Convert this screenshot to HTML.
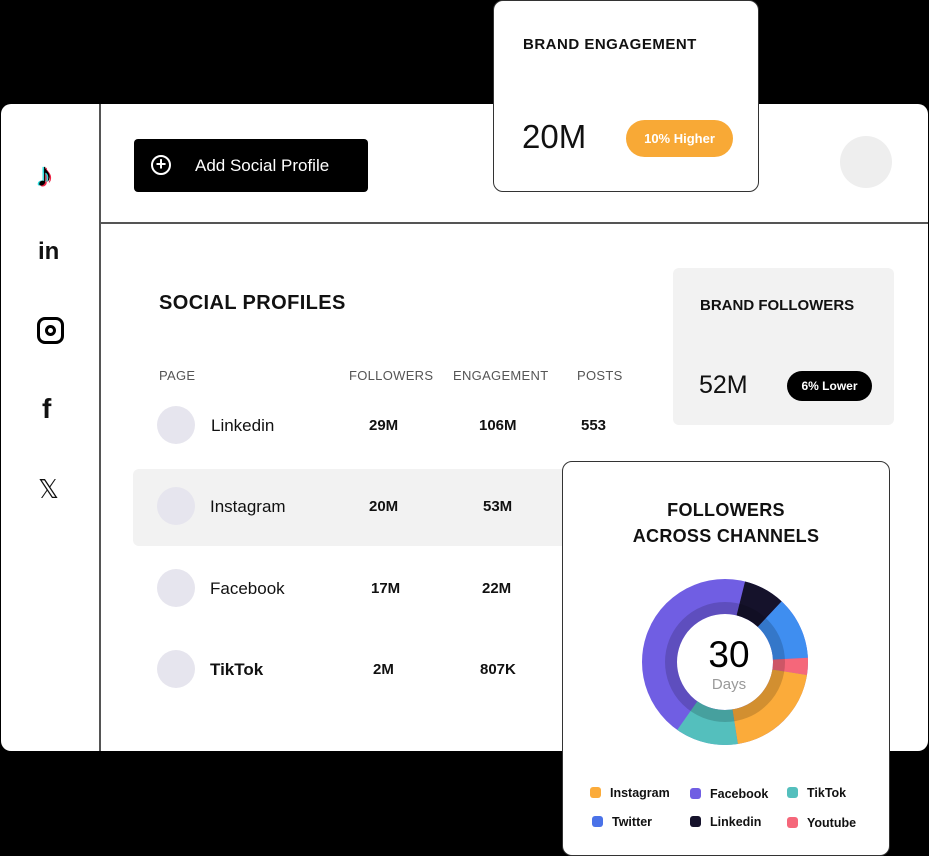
<!DOCTYPE html>
<html><head><meta charset="utf-8"><style>
*{margin:0;padding:0;box-sizing:border-box}
body{width:929px;height:856px;background:#000;position:relative;overflow:hidden;font-family:"Liberation Sans",sans-serif;color:#111}
.a{position:absolute}
.main{left:1px;top:104px;width:927px;height:647px;background:#fff;border-radius:10px}
.t{position:absolute;white-space:nowrap}
.h{font-size:13px;color:#555;letter-spacing:.3px}
.v{font-size:15px;font-weight:bold}
.av{position:absolute;width:38px;height:38px;border-radius:50%;background:#e6e5ee}
.lg{position:absolute;font-size:12.5px;font-weight:bold;white-space:nowrap}
.lg i{display:inline-block;width:11px;height:11px;border-radius:3px;margin-right:9px;vertical-align:-1px}
</style></head><body>
<div class="a main"></div>
<div class="a" style="left:99px;top:104px;width:1.5px;height:647px;background:#555"></div>
<div class="a" style="left:100px;top:222px;width:828px;height:1.5px;background:#555"></div>
<!-- sidebar icons -->
<div class="t" style="left:36px;top:156px;font-size:34px;font-weight:bold;color:#000;text-shadow:-1.5px 0 #2dd,1.5px 1px #e24">♪</div>
<div class="t" style="left:38px;top:238px;font-size:24px;font-weight:bold">in</div>
<div class="a" style="left:37px;top:317px;width:27px;height:27px;border:3px solid #000;border-radius:8px"><div class="a" style="left:5px;top:5px;width:11px;height:11px;border:3px solid #000;border-radius:50%"></div></div>
<div class="t" style="left:42px;top:393px;font-size:28px;font-weight:bold">f</div>
<div class="t" style="left:38px;top:474px;font-size:26px">𝕏</div>
<!-- button -->
<div class="a" style="left:134px;top:139px;width:234px;height:53px;background:#000;border-radius:4px"></div>
<div class="a" style="left:151px;top:155px;width:20px;height:20px;border:2px solid #fff;border-radius:50%;color:#fff;font-size:18px;line-height:15px;text-align:center;font-weight:bold">+</div>
<div class="t" style="left:195px;top:156px;color:#fff;font-size:17px">Add Social Profile</div>
<div class="a" style="left:840px;top:136px;width:52px;height:52px;border-radius:50%;background:#eee"></div>
<!-- brand engagement -->
<div class="a" style="left:493px;top:0;width:266px;height:192px;background:#fff;border:1px solid #333;border-radius:10px"></div>
<div class="t" style="left:523px;top:36px;font-size:15px;font-weight:bold;letter-spacing:.5px">BRAND ENGAGEMENT</div>
<div class="t" style="left:522px;top:118px;font-size:33px">20M</div>
<div class="a" style="left:626px;top:120px;width:107px;height:37px;background:#f8a936;border-radius:19px;color:#fff;font-size:13px;font-weight:bold;text-align:center;line-height:37px">10% Higher</div>
<!-- social profiles -->
<div class="t" style="left:159px;top:292px;font-size:20px;font-weight:bold;letter-spacing:.4px">SOCIAL PROFILES</div>
<div class="t h" style="left:159px;top:368px">PAGE</div>
<div class="t h" style="left:349px;top:368px">FOLLOWERS</div>
<div class="t h" style="left:453px;top:368px">ENGAGEMENT</div>
<div class="t h" style="left:577px;top:368px">POSTS</div>
<div class="a" style="left:133px;top:469px;width:440px;height:77px;background:#f2f2f2;border-radius:6px"></div>
<div class="av" style="left:157px;top:406px"></div><div class="t" style="left:211px;top:416px;font-size:17px">Linkedin</div>
<div class="t v" style="left:369px;top:417px">29M</div><div class="t v" style="left:479px;top:417px">106M</div><div class="t v" style="left:581px;top:417px">553</div>
<div class="av" style="left:157px;top:487px"></div><div class="t" style="left:210px;top:497px;font-size:17px">Instagram</div>
<div class="t v" style="left:369px;top:498px">20M</div><div class="t v" style="left:483px;top:498px">53M</div>
<div class="av" style="left:157px;top:569px"></div><div class="t" style="left:210px;top:579px;font-size:17px">Facebook</div>
<div class="t v" style="left:371px;top:580px">17M</div><div class="t v" style="left:482px;top:580px">22M</div>
<div class="av" style="left:157px;top:650px"></div><div class="t" style="left:210px;top:660px;font-size:17px;font-weight:bold">TikTok</div>
<div class="t v" style="left:373px;top:661px">2M</div><div class="t v" style="left:480px;top:661px">807K</div>
<!-- brand followers -->
<div class="a" style="left:673px;top:268px;width:221px;height:157px;background:#f2f2f2;border-radius:6px"></div>
<div class="t" style="left:700px;top:297px;font-size:15px;font-weight:bold">BRAND FOLLOWERS</div>
<div class="t" style="left:699px;top:371px;font-size:25px">52M</div>
<div class="a" style="left:787px;top:371px;width:85px;height:30px;background:#000;border-radius:15px;color:#fff;font-size:12px;font-weight:bold;text-align:center;line-height:30px">6% Lower</div>
<!-- followers card -->
<div class="a" style="left:562px;top:461px;width:328px;height:395px;background:#fff;border:1px solid #333;border-radius:10px"></div>
<div class="t" style="left:562px;top:497px;width:328px;text-align:center;font-size:18px;font-weight:bold;line-height:26px;letter-spacing:.3px">FOLLOWERS<br>ACROSS CHANNELS</div>
<svg class="a" style="left:0;top:0" width="929" height="856">
<g transform="translate(725 662) rotate(-90)" fill="none" stroke-width="35">
<circle r="65.5" stroke="#705ee3"/>
<circle r="65.5" stroke="#15122b" stroke-dasharray="33.2 378.35" stroke-dashoffset="-16"/>
<circle r="65.5" stroke="#3f8ef0" stroke-dasharray="50.3 361.25" stroke-dashoffset="-49.2"/>
<circle r="65.5" stroke="#f5677a" stroke-dasharray="13.7 397.85" stroke-dashoffset="-99.5"/>
<circle r="65.5" stroke="#fbab3a" stroke-dasharray="82.3 329.25" stroke-dashoffset="-113.2"/>
<circle r="65.5" stroke="#54bfbd" stroke-dasharray="50.3 361.25" stroke-dashoffset="-195.5"/>
<circle r="54" stroke="rgba(0,0,0,0.16)" stroke-width="12"/>
</g>
<text x="729" y="667" text-anchor="middle" font-family="Liberation Sans" font-size="37">30</text>
<text x="729" y="689" text-anchor="middle" font-family="Liberation Sans" font-size="15" fill="#999">Days</text>
</svg>
<div class="lg" style="left:590px;top:786px"><i style="background:#fbab3a"></i>Instagram</div>
<div class="lg" style="left:690px;top:787px"><i style="background:#705ee3"></i>Facebook</div>
<div class="lg" style="left:787px;top:786px"><i style="background:#54bfbd"></i>TikTok</div>
<div class="lg" style="left:592px;top:815px"><i style="background:#4a72e8"></i>Twitter</div>
<div class="lg" style="left:690px;top:815px"><i style="background:#15122b"></i>Linkedin</div>
<div class="lg" style="left:787px;top:816px"><i style="background:#f5677a"></i>Youtube</div>
</body></html>
